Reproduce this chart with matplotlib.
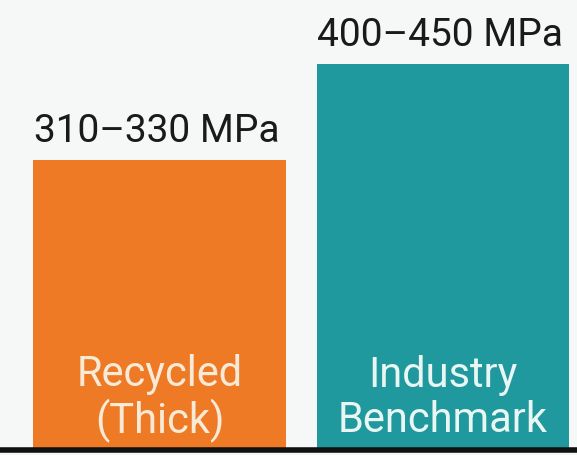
import matplotlib
matplotlib.use('Agg')
import matplotlib.pyplot as plt

categories = ["Recycled\n(Thick)", "Industry\nBenchmark"]
strength_mid = [320, 425]
range_labels = ["310\u2013330 MPa", "400\u2013450 MPa"]
bar_colors = ["#EF7A26", "#1F999D"]
text_colors = ["#F7EBD8", "#E9F6F3"]

plt.rcParams['font.family'] = ['Roboto', 'DejaVu Sans']

fig = plt.figure(figsize=(5.77, 4.56), dpi=100)
fig.patch.set_facecolor("#F6F7F7")
ax = fig.add_axes([0, 5 / 456, 1, 451 / 456])
ax.set_facecolor("#F6F7F7")

x = [0, 1]
bars = ax.bar(x, strength_mid, width=0.89, color=bar_colors)

for i, b in enumerate(bars):
    top = b.get_height()
    ax.text(b.get_x() + b.get_width() / 2 - 0.01, top + 12, range_labels[i],
            ha="center", va="bottom", fontsize=28, color="#1A1A1A")
    ax.text(b.get_x() + b.get_width() / 2, 58, categories[i],
            ha="center", va="center", fontsize=30, color=text_colors[i],
            linespacing=1.12)

ax.set_xlim(-0.563, 1.473)
ax.set_ylim(0, 497)
ax.set_xticks([])
ax.set_yticks([])
for s in ["top", "left", "right"]:
    ax.spines[s].set_visible(False)
ax.spines["bottom"].set_color("#111111")
ax.spines["bottom"].set_linewidth(4)

fig.savefig("out.png", dpi=100, facecolor=fig.get_facecolor())
